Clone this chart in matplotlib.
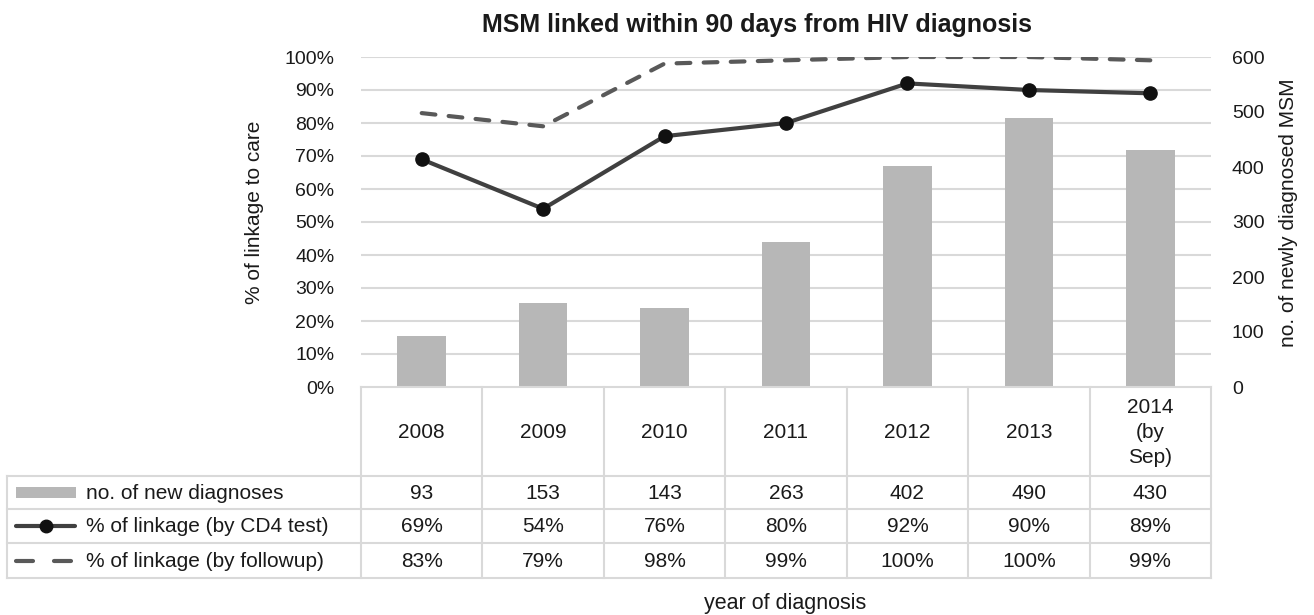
import matplotlib.pyplot as plt
from matplotlib.lines import Line2D
from matplotlib.patches import Rectangle

plt.rcParams['font.family'] = ['Liberation Sans', 'DejaVu Sans']

# ---------------------------------------------------------------------------
# Data
# ---------------------------------------------------------------------------
years = ["2008", "2009", "2010", "2011", "2012", "2013", "2014\n(by\nSep)"]
new_diagnoses = [93, 153, 143, 263, 402, 490, 430]
link_cd4 = [69, 54, 76, 80, 92, 90, 89]
link_followup = [83, 79, 98, 99, 100, 100, 99]
series_names = ["no. of new diagnoses", "% of linkage (by CD4 test)",
                "% of linkage (by followup)"]

BAR_C = "#b7b7b7"
CD4_C = "#404040"
FU_C = "#595959"
GRID_C = "#d9d9d9"
TXT_C = "#1a1a1a"

W, H = 1314, 615
fig = plt.figure(figsize=(W / 100, H / 100), dpi=100)

# plot area in pixels
X0, X1, YT, YB = 361, 1211, 57, 387


def fbox(x0, y0, x1, y1):
    return [x0 / W, 1 - y1 / H, (x1 - x0) / W, (y1 - y0) / H]


ax = fig.add_axes(fbox(X0, YT, X1, YB))
ax2 = ax.twinx()
n = len(years)
xs = list(range(n))

# gridlines (left-axis steps) sit behind the bars
for v in range(10, 101, 10):
    ax2.axhline(v * 6, color=GRID_C, lw=1.5, zorder=1)
ax2.bar(xs, new_diagnoses, width=0.4, color=BAR_C, zorder=2)

ax.plot(xs, link_cd4, color=CD4_C, lw=3, marker="o", markersize=9.5,
        markerfacecolor="#111111", markeredgecolor="#111111", zorder=4)
ax.plot(xs, link_followup, color=FU_C, lw=3, dashes=(3.3, 3.2),
        dash_capstyle="round", zorder=4)

ax.set_zorder(ax2.get_zorder() + 1)
ax.patch.set_visible(False)

ax.set_xlim(-0.5, n - 0.5)
ax.set_ylim(0, 100)
ax2.set_ylim(0, 600)
ax.set_yticks(range(0, 101, 10))
ax.set_yticklabels([f"{v}%" for v in range(0, 101, 10)])
ax2.set_yticks(range(0, 601, 100))
ax.set_xticks([])
for a in (ax, ax2):
    for s in a.spines.values():
        s.set_visible(False)
    a.tick_params(axis="y", length=0, labelsize=14, labelcolor=TXT_C)
ax.tick_params(axis="y", pad=19)
ax2.tick_params(axis="y", pad=15)

fig.text(255 / W, 1 - 212 / H, "% of linkage to care", rotation=90,
         ha="center", va="center", fontsize=15, color=TXT_C)
fig.text(1289 / W, 1 - 213 / H, "no. of newly diagnosed MSM", rotation=90,
         ha="center", va="center", fontsize=15, color=TXT_C)
fig.text(757 / W, 1 - 32 / H,
         "MSM linked within 90 days from HIV diagnosis",
         ha="center", va="baseline", fontsize=18, fontweight="bold",
         color=TXT_C)

# ---------------------------------------------------------------------------
# Data table below the plot
# ---------------------------------------------------------------------------
tab = fig.add_axes([0, 0, 1, 1])
tab.set_xlim(0, W)
tab.set_ylim(H, 0)
tab.axis("off")
tab.patch.set_visible(False)

col_w = (X1 - X0) / n
L0 = 7
rows_y = [YB, 476, 509, 543, 578]


def hline(x0, x1, y):
    tab.add_line(Line2D([x0, x1], [y, y], color=GRID_C, lw=1.5))


def vline(x, y0, y1):
    tab.add_line(Line2D([x, x], [y0, y1], color=GRID_C, lw=1.5))


hline(X0, X1, rows_y[0])
for y in rows_y[1:]:
    hline(L0, X1, y)
vline(L0, rows_y[1], rows_y[-1])
for i in range(n + 1):
    vline(X0 + i * col_w, rows_y[0], rows_y[-1])

fs = 15
for i, yr in enumerate(years):
    cx = X0 + (i + 0.5) * col_w
    tab.text(cx, (rows_y[0] + rows_y[1]) / 2 + 1, yr, ha="center",
             va="center", fontsize=fs, color=TXT_C, linespacing=1.38)
    vals = [str(new_diagnoses[i]), f"{link_cd4[i]}%", f"{link_followup[i]}%"]
    for r, v in enumerate(vals):
        cy = (rows_y[r + 1] + rows_y[r + 2]) / 2 + 1
        tab.text(cx, cy, v, ha="center", va="center", fontsize=fs,
                 color=TXT_C)

for r, name in enumerate(series_names):
    cy = (rows_y[r + 1] + rows_y[r + 2]) / 2 + 1
    tab.text(86, cy, name, ha="left", va="center", fontsize=fs, color=TXT_C)

cy0 = (rows_y[1] + rows_y[2]) / 2
tab.add_patch(Rectangle((16, cy0 - 5.5), 60, 11, color=BAR_C, lw=0))
cy1 = (rows_y[2] + rows_y[3]) / 2
tab.add_line(Line2D([16, 75], [cy1, cy1], color=CD4_C, lw=3,
                    solid_capstyle="round"))
tab.add_line(Line2D([46], [cy1], marker="o", markersize=9,
                    color="#111111", lw=0))
cy2 = (rows_y[3] + rows_y[4]) / 2
tab.add_line(Line2D([16, 33], [cy2, cy2], color=FU_C, lw=3,
                    solid_capstyle="round"))
tab.add_line(Line2D([54, 71], [cy2, cy2], color=FU_C, lw=3,
                    solid_capstyle="round"))

fig.text(785 / W, 1 - 603 / H, "year of diagnosis",
         ha="center", va="center", fontsize=15.5, color=TXT_C)

fig.savefig("out.png", dpi=100)
